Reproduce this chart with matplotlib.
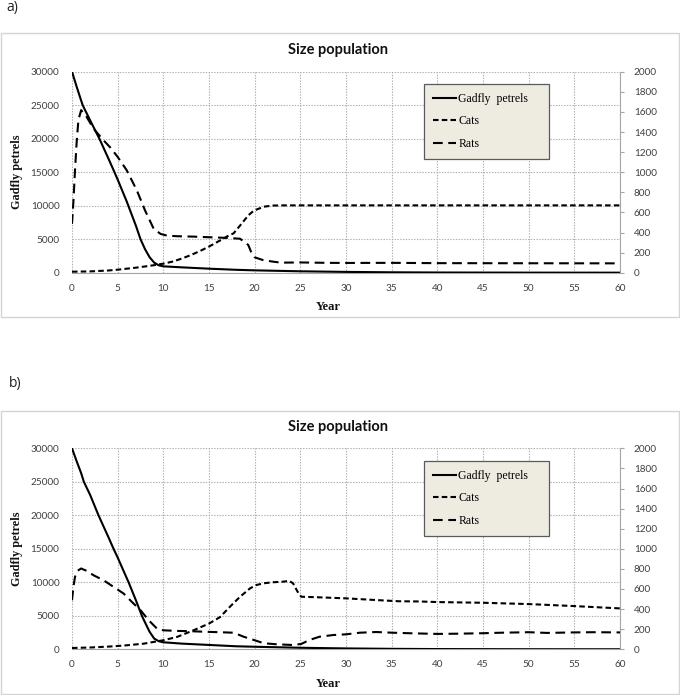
import matplotlib
matplotlib.use("Agg")
import matplotlib.pyplot as plt
from matplotlib.patches import Rectangle

plt.rcParams['lines.scale_dashes'] = False

# ---------------- data ----------------
title = "Size population"
xlabel = "Year"
ylabel = "Gadfly petrels"
series_names = ["Gadfly  petrels", "Cats", "Rats"]
panel_labels = ["a)", "b)"]
x_ticks = list(range(0, 61, 5))
left_ticks = list(range(0, 30001, 5000))
right_ticks = list(range(0, 2001, 200))

# panel a
gadfly_a_x = [0, 0.5, 1, 1.17, 2, 3, 4, 4.65, 5, 6, 7, 7.5, 8, 8.5, 9, 9.5, 10, 12, 15, 18, 20, 25, 30, 35, 40, 50, 60]
gadfly_a_y = [30000, 27800, 25700, 25000, 22700, 20000, 17000, 15000, 13900, 10600, 7000, 5000, 3500, 2300, 1500, 1100, 950, 800, 600, 430, 350, 210, 120, 60, 30, 10, 5]
cats_a_x = [0, 2, 4, 5, 6, 7, 8, 9, 10, 11, 12, 13, 14, 15, 16, 17, 17.7, 18.5, 19.3, 19.9, 21, 22, 23, 30, 40, 50, 60]
cats_a_y = [10, 13, 22, 30, 40, 50, 62, 75, 90, 110, 140, 175, 215, 260, 310, 362, 392, 480, 570, 617, 657, 668, 670, 670, 670, 670, 670]
rats_a_x = [0, 0.15, 0.33, 0.5, 0.7, 1.0, 1.6, 2.35, 3.45, 4.2, 5, 6, 7.1, 8, 8.95, 9.7, 10.4, 11.5, 13.3, 15, 17, 18.4, 19.3, 19.6, 20.0, 20.9, 22.0, 22.9, 25, 28, 30, 35, 40, 50, 60]
rats_a_y = [486, 700, 1019, 1285, 1518, 1618, 1551, 1434, 1318, 1245, 1152, 1018, 819, 619, 436, 386, 369, 363, 359, 353, 346, 338, 276, 209, 153, 126, 110, 100, 102, 98, 97, 98, 95, 94, 93]

# panel b
gadfly_b_x = [0, 0.5, 1, 1.3, 2, 2.9, 4, 4.55, 5, 6, 6.2, 7, 7.65, 8, 8.5, 9, 9.5, 10, 12, 15, 18, 20, 25, 30, 35, 40, 50, 60]
gadfly_b_y = [30000, 28100, 26300, 25000, 23000, 20000, 16700, 15000, 13700, 10600, 10000, 7300, 5000, 4000, 2600, 1600, 1200, 1050, 850, 650, 450, 380, 230, 130, 70, 35, 12, 5]
cats_b_x = [0, 2, 4, 5, 6, 7.85, 10, 11.5, 13.3, 15, 16.2, 17.3, 18.4, 19.5, 20.2, 21, 22, 23.1, 23.8, 24.2, 24.7, 25.1, 27.1, 30, 33.3, 35.8, 38, 40, 45, 50, 55, 60]
cats_b_y = [13, 18, 27, 33, 40, 56, 90, 123, 189, 256, 320, 424, 523, 607, 640, 657, 667, 673, 680, 657, 573, 523, 517, 507, 490, 478, 476, 470, 463, 450, 430, 407]
rats_b_x = [0, 0.15, 0.33, 0.6, 1.0, 1.6, 2.35, 3.45, 4.55, 5.65, 6.55, 7.5, 8.4, 9.3, 10, 11.5, 13.3, 15, 16.2, 17.7, 18.8, 19.9, 21.0, 22.4, 24.1, 25.1, 26.0, 27.1, 28.6, 30, 31.5, 33.3, 35.1, 37.3, 40, 42, 45, 47, 50, 52, 55, 57, 60]
rats_b_y = [488, 621, 721, 781, 804, 781, 737, 687, 621, 555, 472, 389, 289, 206, 189, 183, 179, 173, 170, 165, 125, 93, 60, 50, 43, 53, 93, 125, 142, 149, 165, 172, 165, 159, 153, 155, 160, 165, 170, 163, 168, 170, 168]

# ---------------- figure ----------------
W, H = 680, 695
fig = plt.figure(figsize=(W / 100, H / 100), dpi=100)

def fx(px):
    return px / W

def fy(py):
    return 1 - py / H

tick_family = ["Lato", "DejaVu Sans"]
tick_size = 7.2
serif = ["Liberation Serif", "DejaVu Serif"]
grid_col = "#b0b0b0"
axis_col = "#a6a6a6"

panels = [
    dict(label=panel_labels[0], lab_xy=(6.5, 8), frame=(33.3, 316.7), title_y=50, xl_y=307,
         plot=(71.7, 272.7), leg=84,
         g=(gadfly_a_x, gadfly_a_y), c=(cats_a_x, cats_a_y), r=(rats_a_x, rats_a_y)),
    dict(label=panel_labels[1], lab_xy=(8.7, 383), frame=(410.7, 693.5), title_y=427, xl_y=684,
         plot=(448.3, 649.3), leg=461,
         g=(gadfly_b_x, gadfly_b_y), c=(cats_b_x, cats_b_y), r=(rats_b_x, rats_b_y)),
]

x0, x1 = 72, 620
for p in panels:
    fig.text(fx(p["lab_xy"][0]), fy(p["lab_xy"][1]), p["label"], ha="left", va="center",
             fontsize=10, family=["Open Sans", "DejaVu Sans"], color="#222222")
    ft, fb = p["frame"]
    fig.add_artist(Rectangle((fx(0.5), fy(fb)), fx(678.5), (fb - ft) / H,
                             transform=fig.transFigure, fill=False,
                             edgecolor="#d4d4d4", linewidth=1.0))
    pt, pb = p["plot"]
    ax = fig.add_axes([fx(x0), fy(pb), fx(x1 - x0), (pb - pt) / H])
    ax2 = ax.twinx()

    lg, = ax.plot(p["g"][0], p["g"][1], color="black", lw=1.5, solid_joinstyle="round",
                  label=series_names[0], zorder=3)
    lc, = ax2.plot(p["c"][0], p["c"][1], color="black", lw=1.5, dashes=(4.0, 2.3),
                   label=series_names[1], zorder=3)
    lr, = ax2.plot(p["r"][0], p["r"][1], color="black", lw=1.5, dashes=(7.0, 4.0),
                   label=series_names[2], zorder=3)

    ax.set_xlim(0, 60)
    ax.set_ylim(0, 30000)
    ax2.set_ylim(0, 2000)
    ax.set_xticks(x_ticks)
    ax.set_yticks(left_ticks)
    ax2.set_yticks(right_ticks)
    ax.grid(True, color=grid_col, linestyle=(0, (1, 1)), linewidth=0.8)
    ax.set_axisbelow(True)

    for s in ["top", "left"]:
        ax.spines[s].set_visible(False)
        ax2.spines[s].set_visible(False)
    ax.spines["right"].set_visible(False)
    ax2.spines["bottom"].set_visible(False)
    ax.spines["bottom"].set_color(axis_col)
    ax.spines["bottom"].set_linewidth(0.8)
    ax2.spines["right"].set_color(axis_col)
    ax2.spines["right"].set_linewidth(0.8)

    ax.tick_params(axis="x", length=0, pad=8, colors="#404040")
    ax.tick_params(axis="y", length=0, pad=9, colors="#404040")
    ax2.tick_params(axis="y", length=3, width=0.8, color=axis_col, pad=7, labelcolor="#404040")
    for t in ax.get_xticklabels() + ax.get_yticklabels() + ax2.get_yticklabels():
        t.set_fontfamily(tick_family)
        t.set_fontsize(tick_size)

    fig.text(fx(338), fy(p["title_y"]), title, ha="center", va="center", fontsize=10.5,
             fontweight="bold", family=["Lato", "DejaVu Sans"], color="#111111")
    fig.text(fx(328), fy(p["xl_y"]), xlabel, ha="center", va="center", fontsize=9,
             fontweight="bold", family=serif, color="#111111")
    fig.text(fx(17), fy((pt + pb) / 2), ylabel, ha="center", va="center", rotation=90,
             fontsize=8.8, fontweight="bold", family=serif, color="#111111")

    lt = p["leg"]
    leg = ax2.legend(handles=[lg, lc, lr], loc="upper left",
                     bbox_to_anchor=(fx(424), fy(lt + 71), fx(125), 71 / H),
                     bbox_transform=fig.transFigure, mode="expand", borderaxespad=0,
                     prop=dict(family=serif, size=8.5), frameon=True, fancybox=False,
                     handlelength=2.0, handletextpad=0.15, labelspacing=0.9,
                     borderpad=0.75)
    fr = leg.get_frame()
    fr.set_facecolor("#eeece1")
    fr.set_edgecolor("#5a5a5a")
    fr.set_linewidth(0.9)
    fr.set_alpha(1)
    leg.set_zorder(10)

fig.savefig("out.png", dpi=100)
